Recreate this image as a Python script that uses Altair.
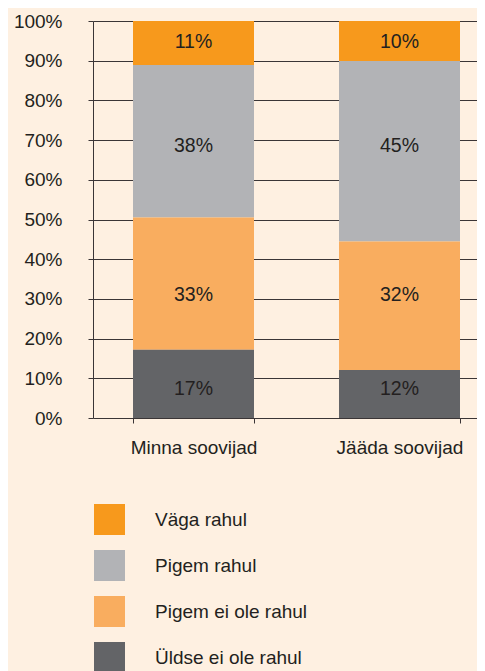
import altair as alt
import pandas as pd

groups = ["Minna soovijad", "Jääda soovijad"]
categories = ["Väga rahul", "Pigem rahul", "Pigem ei ole rahul", "Üldse ei ole rahul"]
colors = ["#f7991c", "#b2b3b6", "#f9ad5f", "#636467"]
stack_order = [3, 2, 1, 0]  # 0 = bottom of the bar
minna_values = [11, 38, 33, 17]
jaada_values = [10, 45, 32, 12]
y_ticks = [0, 0.1, 0.2, 0.3, 0.4, 0.5, 0.6, 0.7, 0.8, 0.9, 1.0]

rows = []
for g, vals in zip(groups, [minna_values, jaada_values]):
    for c, o, v in zip(categories, stack_order, vals):
        rows.append({"group": g, "category": c, "order": o, "value": v})
df = pd.DataFrame(rows)

FONT = "Liberation Sans"
TXT = "#231f20"
LINE = "#3a3536"

x_scale = alt.Scale(range=[0, 407], paddingInner=0.4126, paddingOuter=0.1942)
y_scale = alt.Scale(domain=[0, 1])

x_axis = alt.Axis(
    title=None, labelAngle=0, domain=False, tickBand="extent",
    tickSize=5, tickColor=LINE, labelPadding=15, labelFontSize=19,
    labelFont=FONT, labelColor=TXT, grid=False,
)
y_axis = alt.Axis(
    title=None, values=y_ticks, format=".0%", tickSize=5,
    tickColor=LINE, domainColor=LINE, gridColor=LINE, gridWidth=1,
    grid=True, labelPadding=26, labelFontSize=19, labelFont=FONT,
    labelColor=TXT, domainWidth=1, tickWidth=1, labelOverlap=False,
)

base = alt.Chart(df)

bars = base.mark_bar().encode(
    x=alt.X("group:N", sort=groups, scale=x_scale, axis=x_axis),
    y=alt.Y("value:Q", stack="normalize", scale=y_scale, axis=y_axis),
    color=alt.Color(
        "category:N",
        scale=alt.Scale(domain=categories, range=colors),
        legend=alt.Legend(
            title=None, orient="none", legendX=1, legendY=483,
            symbolType="square", symbolSize=961, symbolStrokeWidth=0,
            symbolOpacity=1, labelFontSize=19, labelFont=FONT,
            labelColor=TXT, labelOffset=30, rowPadding=15, padding=0,
            direction="vertical",
        ),
    ),
    order=alt.Order("order:Q", sort="ascending"),
)

labels = base.transform_joinaggregate(
    total="sum(value)", groupby=["group"]
).transform_window(
    cum="sum(value)", sort=[alt.SortField("order", order="ascending")],
    groupby=["group"], frame=[None, 0]
).transform_calculate(
    mid="(datum.cum - datum.value / 2) / datum.total",
    label="datum.value + '%'",
).transform_joinaggregate(
    ypos="mean(mid)", groupby=["category"]
).mark_text(
    fontSize=19.5, font=FONT, color=TXT, baseline="middle", align="center"
).encode(
    x=alt.X("group:N", sort=groups, scale=x_scale, axis=x_axis),
    y=alt.Y("ypos:Q", scale=y_scale, axis=y_axis),
    text="label:N",
)

chart = alt.layer(bars, labels).properties(
    width=384,
    height=397,
    autosize=alt.AutoSizeParams(type="none"),
    padding={"left": 85, "top": 13, "right": 0, "bottom": 253},
    background="#fef0e1",
).configure_view(stroke=None)

chart.save("out.html", embed_options={"renderer": "svg", "actions": False})
